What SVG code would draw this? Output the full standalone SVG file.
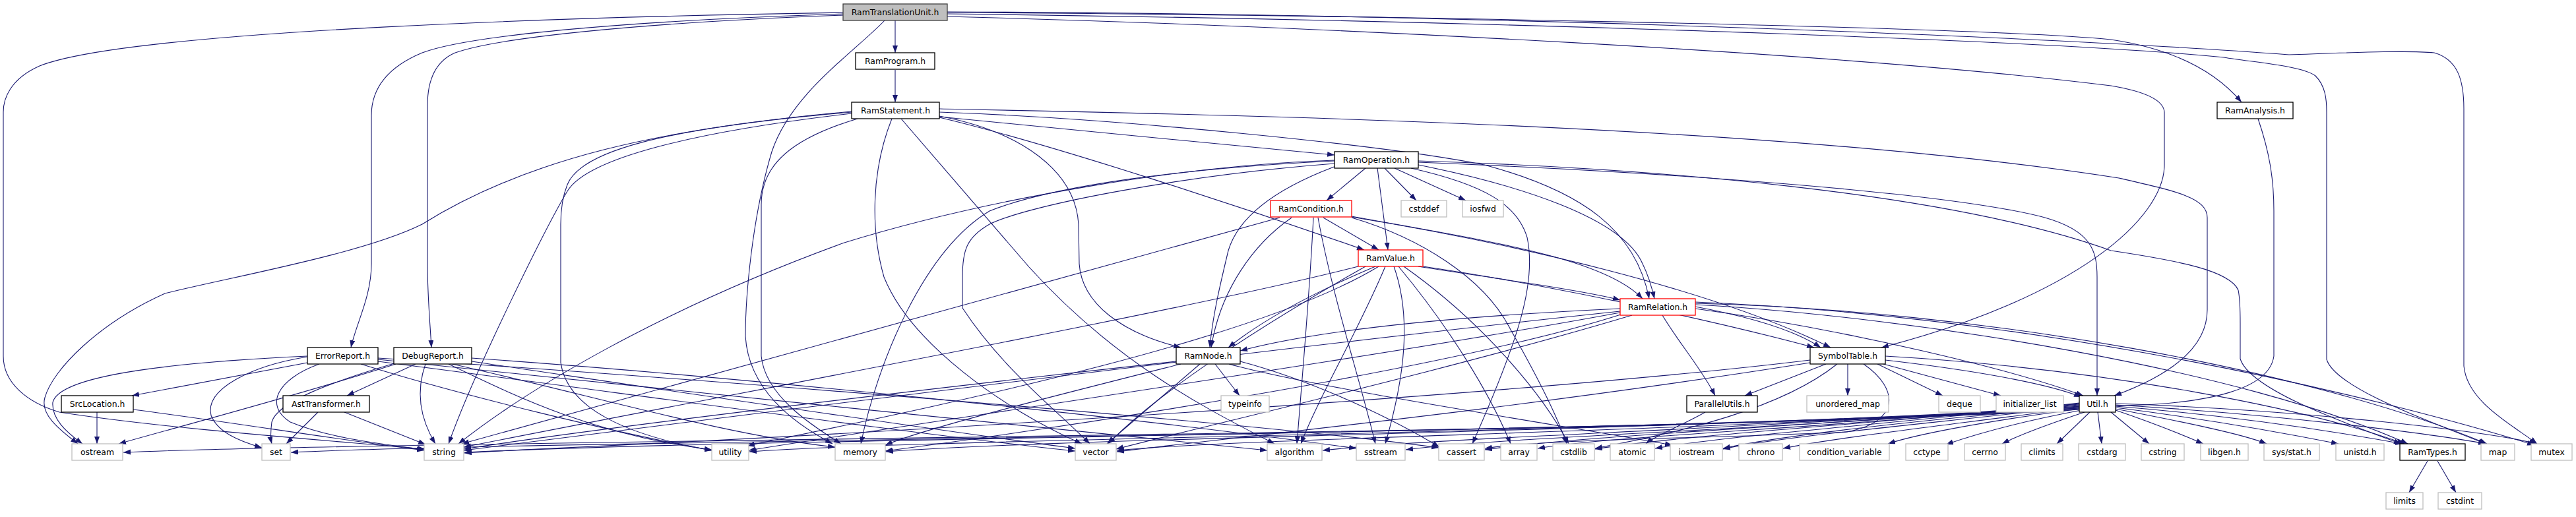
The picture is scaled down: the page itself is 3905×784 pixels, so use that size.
<svg xmlns="http://www.w3.org/2000/svg" width="3905" height="784" viewBox="0 0 3905 784">
<style>
.e{fill:none;stroke:#191970;stroke-width:1.1;marker-end:url(#ah)}
.node rect{fill:#fff;stroke-width:1.3}
.p rect{stroke:#000}
.s rect{stroke:#bfbfbf}
.r rect{stroke:#ff0000}
.root rect{fill:#bfbfbf;stroke:#404040}
.node text{font-family:"DejaVu Sans",sans-serif;font-size:12.4px;fill:#000;text-anchor:middle}
</style>
<defs>
<marker id="ah" markerUnits="userSpaceOnUse" markerWidth="12" markerHeight="9" refX="11" refY="4" orient="auto"><path d="M0,0 L11,4 L0,8 z" fill="#191970"/></marker>
</defs>
<rect width="3905" height="784" fill="#fff"/>
<g id="edges">
<!-- RamTranslationUnit -->
<path class="e" d="M1357,31 L1357,80"/>
<path class="e" d="M1278,19 C900,25 200,45 60,100 C15,120 5,150 5,170 L5,540 C5,580 40,610 90,625 C250,650 500,668 644,681"/>
<path class="e" d="M1278,21 C1000,30 720,50 640,80 C580,105 563,140 563,175 L563,400 C563,450 540,490 532,527"/>
<path class="e" d="M1278,23 C1000,33 760,55 690,80 C655,95 648,130 648,160 L648,400 C648,450 652,490 654,527"/>
<path class="e" d="M1341,31 C1300,75 1200,140 1170,230 C1140,330 1130,450 1130,510 C1135,590 1200,640 1262,673"/>
<path class="e" d="M1436,19 C2000,22 3000,40 3200,60 C3300,75 3360,110 3398,155"/>
<path class="e" d="M1436,18 C2200,20 3100,55 3470,83 C3560,80 3650,76 3690,80 C3725,90 3735,120 3735,165 L3735,555 C3740,610 3810,645 3846,673"/>
<path class="e" d="M1436,21 C2200,30 3100,60 3371,87 C3420,95 3490,100 3510,115 C3525,130 3527,150 3527,170 L3527,545 C3540,590 3700,645 3768,673"/>
<path class="e" d="M1436,25 C2000,40 2800,80 3200,130 C3260,140 3280,155 3281,170 L3281,250 C3281,330 3150,450 2852,527"/>
<path class="e" d="M1357,106 L1357,155"/>
<!-- RamAnalysis -->
<path class="e" d="M3423,180 C3440,230 3447,270 3447,320 L3447,540 C3440,590 3350,612 3220,615 C3000,625 2700,660 2612,680"/>
<!-- RamStatement -->
<path class="e" d="M1424,177 C1600,195 1850,218 2023,235"/>
<path class="e" d="M1424,170 C1700,180 2100,220 2250,250 C2400,290 2480,350 2500,453"/>
<path class="e" d="M1424,165 C1900,175 2700,190 3212,270 C3300,290 3346,300 3346,330 L3346,470 C3346,540 3260,580 3205,600"/>
<path class="e" d="M1424,178 C1600,220 1900,320 2068,379"/>
<path class="e" d="M1424,176 C1550,200 1630,260 1635,340 L1636,400 C1640,460 1700,505 1790,527"/>
<path class="e" d="M1366,180 L1560,405 C1700,560 1850,630 1932,673"/>
<path class="e" d="M1352,180 C1320,260 1320,350 1340,420 C1380,520 1520,620 1640,673"/>
<path class="e" d="M1300,180 C1200,210 1154,250 1154,310 L1154,540 C1160,600 1230,645 1275,673"/>
<path class="e" d="M1291,170 C1000,195 880,230 860,280 C852,300 850,320 850,340 L850,550 C860,620 950,660 1079,683"/>
<path class="e" d="M1291,172 C1050,200 890,240 860,290 C830,340 720,560 680,673"/>
<path class="e" d="M1291,169 C1000,195 800,240 640,340 C550,385 350,420 250,445 C150,490 80,560 68,603 C60,630 95,655 118,673"/>
<!-- RamOperation -->
<path class="e" d="M2070,255 L2011,304"/>
<path class="e" d="M2088,255 L2104,379"/>
<path class="e" d="M2099,255 L2147,304"/>
<path class="e" d="M2114,255 L2222,304"/>
<path class="e" d="M2025,252 C1950,280 1880,320 1862,380 C1850,430 1838,480 1834,527"/>
<path class="e" d="M2150,250 C2300,280 2460,330 2490,400 C2500,420 2505,440 2508,453"/>
<path class="e" d="M2150,246 C2500,260 2950,290 3100,330 C3170,350 3179,380 3179,420 L3179,600"/>
<path class="e" d="M2150,244 C2500,255 2950,290 3200,380 C3300,395 3380,410 3393,440 C3396,455 3396,470 3396,490 L3396,544 C3410,590 3550,640 3640,673"/>
<path class="e" d="M2139,255 C2250,280 2300,310 2315,360 C2330,430 2300,520 2232,673"/>
<path class="e" d="M2023,243 C1800,250 1500,300 1280,368 C1000,470 800,590 695,673"/>
<path class="e" d="M2023,244 C1800,255 1600,280 1500,320 C1400,380 1330,550 1305,673"/>
<path class="e" d="M2023,248 C1800,265 1560,310 1500,340 C1465,360 1459,380 1459,420 L1459,467 C1520,560 1600,620 1652,673"/>
<!-- RamCondition -->
<path class="e" d="M2006,330 L2090,379"/>
<path class="e" d="M1958,330 C1900,370 1850,440 1836,527"/>
<path class="e" d="M1940,330 C1700,400 1300,510 700,673"/>
<path class="e" d="M1991,330 C1985,450 1975,560 1966,673"/>
<path class="e" d="M1998,330 C2020,450 2060,570 2085,673"/>
<path class="e" d="M2049,328 C2250,365 2430,390 2490,453"/>
<path class="e" d="M2049,329 C2300,370 2600,440 2775,527"/>
<path class="e" d="M2049,330 C2150,360 2250,420 2290,500 C2330,570 2360,630 2375,673"/>
<!-- RamValue -->
<path class="e" d="M2150,404 C2250,420 2400,440 2456,455"/>
<path class="e" d="M2157,404 C2400,440 2650,500 2750,527"/>
<path class="e" d="M2085,404 C2000,440 1920,480 1862,527"/>
<path class="e" d="M2100,404 C2060,500 2000,600 1972,673"/>
<path class="e" d="M2113,404 C2140,480 2130,570 2100,673"/>
<path class="e" d="M2120,404 C2200,500 2260,600 2290,673"/>
<path class="e" d="M2128,404 C2250,490 2340,600 2378,673"/>
<path class="e" d="M2059,404 C1800,470 1200,580 703,678"/>
<path class="e" d="M2090,404 C1900,520 1400,620 1133,676"/>
<path class="e" d="M2070,404 C1900,500 1750,600 1680,673"/>
<!-- RamRelation -->
<path class="e" d="M2520,478 C2545,520 2580,560 2600,600"/>
<path class="e" d="M2570,465 C2650,480 2720,500 2760,527"/>
<path class="e" d="M2570,468 C2800,500 3050,560 3158,600"/>
<path class="e" d="M2570,462 C2900,480 3400,560 3650,673"/>
<path class="e" d="M2456,468 C2200,480 2000,500 1880,532"/>
<path class="e" d="M2456,472 C2000,520 1200,620 703,683"/>
<path class="e" d="M2456,474 C2100,540 1400,640 1135,683"/>
<path class="e" d="M2460,476 C2200,560 1600,650 1342,684"/>
<path class="e" d="M2474,478 C2200,560 1850,640 1692,681"/>
<path class="e" d="M2570,460 C3000,470 3500,560 3770,673"/>
<path class="e" d="M2570,458 C3100,480 3600,600 3842,675"/>
<!-- SymbolTable -->
<path class="e" d="M2768,552 L2645,600"/>
<path class="e" d="M2801,552 L2801,600"/>
<path class="e" d="M2846,552 L2945,600"/>
<path class="e" d="M2855,552 L3033,600"/>
<path class="e" d="M2858,546 C2980,560 3100,580 3155,602"/>
<path class="e" d="M2825,552 C2880,590 2880,640 2800,655 C2600,665 2350,665 2251,680"/>
<path class="e" d="M2785,552 C2700,620 2550,655 2418,680"/>
<path class="e" d="M2744,546 C2300,600 1300,660 704,686"/>
<path class="e" d="M2858,540 C3200,560 3500,620 3645,673"/>
<path class="e" d="M2744,550 C2300,620 1900,660 1693,685"/>
<!-- ParallelUtils -->
<path class="e" d="M2585,625 C2550,645 2510,660 2495,673"/>
<!-- Util -->
<path class="e" d="M3152,621 C2500,660 600,668 187,686"/>
<path class="e" d="M3152,620 C2500,660 800,668 441,686"/>
<path class="e" d="M3152,619 C2500,658 1000,666 704,687"/>
<path class="e" d="M3152,618 C2500,657 1400,665 1136,685"/>
<path class="e" d="M3152,617 C2500,656 1600,664 1343,685"/>
<path class="e" d="M3152,616 C2600,655 1900,663 1693,683"/>
<path class="e" d="M3152,615 C2600,654 2200,662 2005,683"/>
<path class="e" d="M3152,614 C2700,652 2300,661 2131,682"/>
<path class="e" d="M3152,613 C2700,650 2400,660 2251,682"/>
<path class="e" d="M3152,612 C2800,648 2450,660 2331,680"/>
<path class="e" d="M3152,612 C2800,646 2550,660 2418,681"/>
<path class="e" d="M3152,611 C2850,645 2620,660 2509,680"/>
<path class="e" d="M3153,616 C2900,645 2700,662 2612,681"/>
<path class="e" d="M3153,618 C2950,645 2780,664 2703,680"/>
<path class="e" d="M3153,620 C3000,640 2900,660 2862,673"/>
<path class="e" d="M3155,622 C3060,640 2990,660 2950,674"/>
<path class="e" d="M3160,625 C3100,645 3060,660 3035,673"/>
<path class="e" d="M3168,625 L3118,673"/>
<path class="e" d="M3180,625 L3186,673"/>
<path class="e" d="M3200,625 L3258,673"/>
<path class="e" d="M3207,622 C3260,640 3310,660 3340,673"/>
<path class="e" d="M3207,620 C3300,638 3400,658 3436,673"/>
<path class="e" d="M3207,618 C3350,636 3480,660 3545,673"/>
<path class="e" d="M3207,616 C3400,632 3560,658 3642,673"/>
<path class="e" d="M3207,614 C3450,628 3690,658 3768,673"/>
<path class="e" d="M3207,612 C3500,622 3780,655 3845,673"/>
<!-- RamTypes -->
<path class="e" d="M3680,699 L3652,747"/>
<path class="e" d="M3695,699 L3723,747"/>
<!-- RamNode -->
<path class="e" d="M1842,552 L1879,600"/>
<path class="e" d="M1819,552 L1678,673"/>
<path class="e" d="M1790,552 C1600,600 1400,650 1342,675"/>
<path class="e" d="M1783,548 C1400,590 900,650 703,681"/>
<path class="e" d="M1863,552 C2000,590 2400,650 2535,675"/>
<path class="e" d="M1880,548 C2000,580 2120,640 2182,678"/>
<!-- ErrorReport -->
<path class="e" d="M466,550 L200,600"/>
<path class="e" d="M466,540 C250,550 90,570 80,610 C78,635 100,655 125,673"/>
<path class="e" d="M466,541 C380,555 310,590 320,630 C330,655 360,668 397,679"/>
<path class="e" d="M484,552 C420,575 400,615 440,640 C500,665 580,673 643,682"/>
<path class="e" d="M573,545 C900,580 1600,650 1921,683"/>
<path class="e" d="M573,548 C900,590 1400,660 1630,684"/>
<path class="e" d="M573,543 C1000,570 1900,640 2181,679"/>
<path class="e" d="M547,552 C700,600 950,660 1079,683"/>
<!-- DebugReport -->
<path class="e" d="M630,552 L526,600"/>
<path class="e" d="M645,552 C628,600 640,640 660,673"/>
<path class="e" d="M600,552 C450,600 260,650 180,673"/>
<path class="e" d="M598,551 C500,580 420,610 412,640 C410,655 410,665 412,673"/>
<path class="e" d="M680,552 C780,600 900,660 1079,682"/>
<path class="e" d="M685,552 C900,600 1100,660 1266,678"/>
<path class="e" d="M715,543 C1100,570 1700,630 2056,680"/>
<path class="e" d="M715,548 C1000,590 1400,650 1630,680"/>
<!-- AstTransformer -->
<path class="e" d="M482,625 L434,673"/>
<path class="e" d="M522,625 L645,674"/>
<!-- SrcLocation -->
<path class="e" d="M147,625 L147,673"/>
<path class="e" d="M202,621 C350,640 500,665 643,683"/>
</g>
<g id="n_RamTranslationUnit" class="node root"><rect x="1278" y="6" width="158" height="25"/><text x="1357" y="23">RamTranslationUnit.h</text></g>
<g id="n_RamProgram" class="node p"><rect x="1297" y="80" width="120" height="25"/><text x="1357" y="97">RamProgram.h</text></g>
<g id="n_RamStatement" class="node p"><rect x="1291" y="155" width="133" height="25"/><text x="1357.5" y="172">RamStatement.h</text></g>
<g id="n_RamAnalysis" class="node p"><rect x="3361" y="155" width="115" height="25"/><text x="3418.5" y="172">RamAnalysis.h</text></g>
<g id="n_RamOperation" class="node p"><rect x="2023" y="230" width="127" height="25"/><text x="2086.5" y="247">RamOperation.h</text></g>
<g id="n_RamCondition" class="node r"><rect x="1926" y="304" width="123" height="25"/><text x="1987.5" y="321">RamCondition.h</text></g>
<g id="n_cstddef" class="node s"><rect x="2124" y="304" width="69" height="25"/><text x="2158.5" y="321">cstddef</text></g>
<g id="n_iosfwd" class="node s"><rect x="2217" y="304" width="62" height="25"/><text x="2248" y="321">iosfwd</text></g>
<g id="n_RamValue" class="node r"><rect x="2059" y="379" width="98" height="25"/><text x="2108" y="396">RamValue.h</text></g>
<g id="n_RamRelation" class="node r"><rect x="2456" y="453" width="114" height="25"/><text x="2513" y="470">RamRelation.h</text></g>
<g id="n_ErrorReport" class="node p"><rect x="466" y="527" width="107" height="25"/><text x="519.5" y="544">ErrorReport.h</text></g>
<g id="n_DebugReport" class="node p"><rect x="597" y="527" width="118" height="25"/><text x="656" y="544">DebugReport.h</text></g>
<g id="n_RamNode" class="node p"><rect x="1783" y="527" width="97" height="25"/><text x="1831.5" y="544">RamNode.h</text></g>
<g id="n_SymbolTable" class="node p"><rect x="2744" y="527" width="114" height="25"/><text x="2801" y="544">SymbolTable.h</text></g>
<g id="n_SrcLocation" class="node p"><rect x="93" y="600" width="109" height="25"/><text x="147.5" y="617">SrcLocation.h</text></g>
<g id="n_AstTransformer" class="node p"><rect x="429" y="600" width="131" height="25"/><text x="494.5" y="617">AstTransformer.h</text></g>
<g id="n_typeinfo" class="node s"><rect x="1851" y="600" width="73" height="25"/><text x="1887.5" y="617">typeinfo</text></g>
<g id="n_ParallelUtils" class="node p"><rect x="2557" y="600" width="107" height="25"/><text x="2610.5" y="617">ParallelUtils.h</text></g>
<g id="n_unordered_map" class="node s"><rect x="2739" y="600" width="124" height="25"/><text x="2801" y="617">unordered_map</text></g>
<g id="n_deque" class="node s"><rect x="2939" y="600" width="63" height="25"/><text x="2970.5" y="617">deque</text></g>
<g id="n_initializer_list" class="node s"><rect x="3026" y="600" width="102" height="25"/><text x="3077" y="617">initializer_list</text></g>
<g id="n_Util" class="node p"><rect x="3152" y="600" width="55" height="25"/><text x="3179.5" y="617">Util.h</text></g>
<g id="n_ostream" class="node s"><rect x="109" y="673" width="77" height="25"/><text x="147.5" y="690">ostream</text></g>
<g id="n_set" class="node s"><rect x="397" y="673" width="43" height="25"/><text x="418.5" y="690">set</text></g>
<g id="n_string" class="node s"><rect x="643" y="673" width="60" height="25"/><text x="673" y="690">string</text></g>
<g id="n_utility" class="node s"><rect x="1079" y="673" width="56" height="25"/><text x="1107" y="690">utility</text></g>
<g id="n_memory" class="node s"><rect x="1266" y="673" width="76" height="25"/><text x="1304" y="690">memory</text></g>
<g id="n_vector" class="node s"><rect x="1630" y="673" width="62" height="25"/><text x="1661" y="690">vector</text></g>
<g id="n_algorithm" class="node s"><rect x="1921" y="673" width="83" height="25"/><text x="1962.5" y="690">algorithm</text></g>
<g id="n_sstream" class="node s"><rect x="2056" y="673" width="74" height="25"/><text x="2093" y="690">sstream</text></g>
<g id="n_cassert" class="node s"><rect x="2181" y="673" width="69" height="25"/><text x="2215.5" y="690">cassert</text></g>
<g id="n_array" class="node s"><rect x="2275" y="673" width="55" height="25"/><text x="2302.5" y="690">array</text></g>
<g id="n_cstdlib" class="node s"><rect x="2354" y="673" width="63" height="25"/><text x="2385.5" y="690">cstdlib</text></g>
<g id="n_atomic" class="node s"><rect x="2441" y="673" width="67" height="25"/><text x="2474.5" y="690">atomic</text></g>
<g id="n_iostream" class="node s"><rect x="2532" y="673" width="79" height="25"/><text x="2571.5" y="690">iostream</text></g>
<g id="n_chrono" class="node s"><rect x="2636" y="673" width="66" height="25"/><text x="2669" y="690">chrono</text></g>
<g id="n_condition_variable" class="node s"><rect x="2728" y="673" width="136" height="25"/><text x="2796" y="690">condition_variable</text></g>
<g id="n_cctype" class="node s"><rect x="2889" y="673" width="64" height="25"/><text x="2921" y="690">cctype</text></g>
<g id="n_cerrno" class="node s"><rect x="2978" y="673" width="62" height="25"/><text x="3009" y="690">cerrno</text></g>
<g id="n_climits" class="node s"><rect x="3064" y="673" width="63" height="25"/><text x="3095.5" y="690">climits</text></g>
<g id="n_cstdarg" class="node s"><rect x="3151" y="673" width="71" height="25"/><text x="3186.5" y="690">cstdarg</text></g>
<g id="n_cstring" class="node s"><rect x="3246" y="673" width="65" height="25"/><text x="3278.5" y="690">cstring</text></g>
<g id="n_libgen" class="node s"><rect x="3336" y="673" width="72" height="25"/><text x="3372" y="690">libgen.h</text></g>
<g id="n_sys_stat" class="node s"><rect x="3432" y="673" width="84" height="25"/><text x="3474" y="690">sys/stat.h</text></g>
<g id="n_unistd" class="node s"><rect x="3541" y="673" width="73" height="25"/><text x="3577.5" y="690">unistd.h</text></g>
<g id="n_RamTypes" class="node p"><rect x="3638" y="673" width="99" height="25"/><text x="3687.5" y="690">RamTypes.h</text></g>
<g id="n_map" class="node s"><rect x="3761" y="673" width="51" height="25"/><text x="3786.5" y="690">map</text></g>
<g id="n_mutex" class="node s"><rect x="3837" y="673" width="62" height="25"/><text x="3868" y="690">mutex</text></g>
<g id="n_limits" class="node s"><rect x="3617" y="747" width="56" height="25"/><text x="3645" y="764">limits</text></g>
<g id="n_cstdint" class="node s"><rect x="3696" y="747" width="66" height="25"/><text x="3729" y="764">cstdint</text></g>
</svg>
